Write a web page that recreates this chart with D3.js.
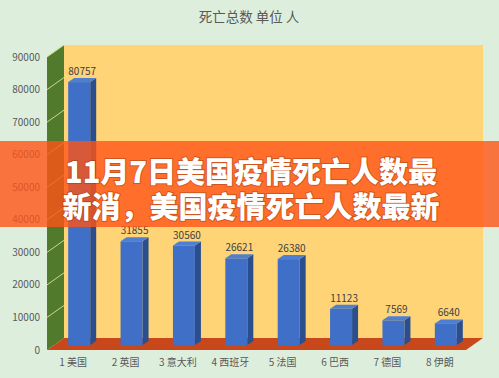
<!DOCTYPE html>
<html>
<head>
<meta charset="utf-8">
<script src="https://cdn.jsdelivr.net/npm/d3@7"></script>
<style>
  body { margin: 0; background: #deeedc; }
  svg { display: block; }
</style>
</head>
<body>
<div id="chart"></div>
<script>
var categories = ["1 美国", "2 英国", "3 意大利", "4 西班牙", "5 法国", "6 巴西", "7 德国", "8 伊朗"];
var deaths = [80757, 31855, 30560, 26621, 26380, 11123, 7569, 6640];
var yTicks = [0, 10000, 20000, 30000, 40000, 50000, 60000, 70000, 80000, 90000];
var title = "死亡总数 单位 人";
var bannerLines = ["11月7日美国疫情死亡人数最", "新消，美国疫情死亡人数最新"];

var width = 499, height = 378;
var font = "'Noto Sans CJK SC', 'Noto Sans', sans-serif";

// depth of the 3d box: back plane is shifted by (ddx, ddy) from the front
var ddx = 17, ddy = -12;
var x = d3.scaleBand().domain(categories).range([47, 466]);
var y = d3.scaleLinear().domain([0, 90000]).range([350, 57]);

var svg = d3.select("#chart").append("svg")
    .attr("width", width).attr("height", height);

svg.append("rect").attr("width", width).attr("height", height).attr("fill", "#deeedc");

// title
svg.append("text")
    .attr("x", 249).attr("y", 22)
    .attr("text-anchor", "middle")
    .attr("font-family", font).attr("font-size", 13.5)
    .attr("fill", "#595959")
    .text(title);

var x0 = x.range()[0], x1 = x.range()[1];

// back wall
svg.append("polygon")
    .attr("points", [[x0 + ddx, y(90000) + ddy], [x1 + ddx, y(90000) + ddy], [x1 + ddx, y(0) + ddy], [x0 + ddx, y(0) + ddy]].join(" "))
    .attr("fill", "#ffd477");

// left side wall
svg.append("polygon")
    .attr("points", [[x0, y(90000)], [x0 + ddx, y(90000) + ddy], [x0 + ddx, y(0) + ddy], [x0, y(0)]].join(" "))
    .attr("fill", "#517a2c");

// gridlines on side wall
svg.selectAll(".grid").data(yTicks.slice(1)).enter().append("line")
    .attr("x1", x0).attr("y1", function(d){ return y(d); })
    .attr("x2", x0 + ddx).attr("y2", function(d){ return y(d) + ddy; })
    .attr("stroke", "#c9dc8a").attr("stroke-width", 1);

// floor
svg.append("polygon")
    .attr("points", [[x0, y(0)], [x0 + ddx, y(0) + ddy], [x1 + ddx, y(0) + ddy], [x1, y(0)]].join(" "))
    .attr("fill", "#c8471b");

// y axis labels
svg.selectAll(".ylab").data(yTicks).enter().append("text")
    .attr("x", 40).attr("y", function(d){ return y(d) + 3.5; })
    .attr("text-anchor", "end")
    .attr("font-family", font).attr("font-size", 10)
    .attr("fill", "#595959")
    .text(function(d){ return d; });

// bars (3d)
var bx = 6, by = -5, bw = 22, sdx = 6, sdy = -4;
var bars = svg.selectAll(".bar").data(categories).enter().append("g");
bars.each(function(c, i) {
    var g = d3.select(this);
    var left = x(c) + x.bandwidth() / 2 - 5;
    var right = left + bw;
    var top = y(deaths[i]) + by;
    var bottom = y(0) + by;
    g.append("polygon")
        .attr("points", [[right, top], [right + sdx, top + sdy], [right + sdx, bottom + sdy], [right, bottom]].join(" "))
        .attr("fill", "#2b4f8e");
    g.append("polygon")
        .attr("points", [[left, top], [left + sdx, top + sdy], [right + sdx, top + sdy], [right, top]].join(" "))
        .attr("fill", "#4f7fd0");
    g.append("rect")
        .attr("x", left).attr("y", top)
        .attr("width", bw).attr("height", bottom - top)
        .attr("fill", "#3f6fc6");
    g.append("text")
        .attr("x", left + (bw + sdx) / 2).attr("y", top + sdy - 3)
        .attr("text-anchor", "middle")
        .attr("font-family", font).attr("font-size", 10)
        .attr("fill", "#404040")
        .text(deaths[i]);
});

// x labels
svg.selectAll(".xlab").data(categories).enter().append("text")
    .attr("x", function(d){ return x(d) + x.bandwidth() / 2; })
    .attr("y", 366)
    .attr("text-anchor", "middle")
    .attr("font-family", font).attr("font-size", 10)
    .attr("fill", "#595959")
    .text(function(d){ return d; });

// orange banner overlay
svg.append("rect")
    .attr("x", 0).attr("y", 141).attr("width", width).attr("height", 86)
    .attr("fill", "rgb(255,84,22)").attr("fill-opacity", 0.8);

svg.selectAll(".banner").data(bannerLines).enter().append("text")
    .attr("x", 251)
    .attr("y", function(d, i){ return 183 + i * 35; })
    .attr("text-anchor", "middle")
    .attr("font-family", font).attr("font-size", 29).attr("font-weight", 900)
    .attr("fill", "#ffffff")
    .style("paint-order", "stroke")
    .attr("stroke", "rgba(120,40,10,0.35)").attr("stroke-width", 2)
    .text(function(d){ return d; });
</script>
</body>
</html>
